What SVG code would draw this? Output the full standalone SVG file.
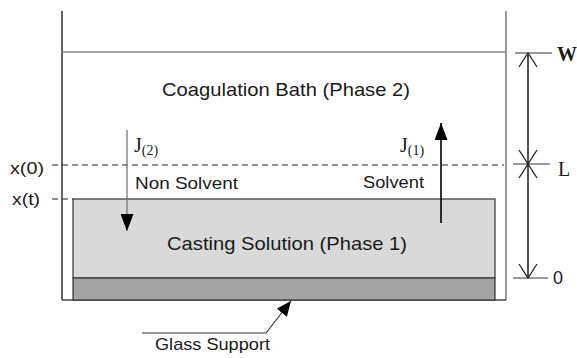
<svg xmlns="http://www.w3.org/2000/svg" width="577" height="358" viewBox="0 0 577 358">
<defs>
<marker id="fill" viewBox="0 0 10 10" refX="10" refY="5" markerWidth="15" markerHeight="13" markerUnits="userSpaceOnUse" orient="auto" preserveAspectRatio="none"><path d="M0,0 L10,5 L0,10 z" fill="#000"/></marker>
<marker id="big" viewBox="0 0 10 10" refX="10" refY="5" markerWidth="17" markerHeight="13" markerUnits="userSpaceOnUse" orient="auto" preserveAspectRatio="none"><path d="M0,0 L10,5 L0,10 z" fill="#000"/></marker>
<marker id="open" viewBox="0 0 16 20" refX="15" refY="10" markerWidth="16" markerHeight="20" markerUnits="userSpaceOnUse" orient="auto"><path d="M1,1 L15,10 L1,19" fill="none" stroke="#222" stroke-width="1.3"/></marker>
</defs>
<style>
.sans{font-family:"Liberation Sans",Arial,sans-serif;fill:#1a1a1a}
.serif{font-family:"Liberation Serif","Times New Roman",serif;fill:#1a1a1a}
.dash{stroke:#222;stroke-width:1.2;stroke-dasharray:6,4;fill:none}
.thin{stroke:#333;stroke-width:1.2;fill:none}
</style>
<rect width="577" height="358" fill="#fff"/>
<g id="container">
<line x1="62" y1="11" x2="62" y2="300" stroke="#333" stroke-width="1.5"/>
<line x1="506" y1="11" x2="506" y2="300" stroke="#777" stroke-width="1.5"/>
<line x1="62" y1="300" x2="506" y2="300" stroke="#444" stroke-width="1.5"/>
<line x1="62" y1="52" x2="506" y2="52" stroke="#888" stroke-width="1.5"/>
</g>
<g id="bath">
<text class="sans" x="162" y="96" font-size="19" textLength="248" lengthAdjust="spacingAndGlyphs">Coagulation Bath (Phase 2)</text>
</g>
<g id="casting">
<rect x="73" y="199" width="422" height="79" fill="#d9d9d9" stroke="#333" stroke-width="1.2"/>
<rect x="73" y="278" width="422" height="22" fill="#a4a4a4" stroke="#333" stroke-width="1.2"/>
<text class="sans" x="167" y="250" font-size="19" textLength="240" lengthAdjust="spacingAndGlyphs">Casting Solution (Phase 1)</text>
</g>
<g id="levels">
<line class="dash" x1="52" y1="165" x2="504" y2="165"/>
<line class="dash" x1="52" y1="199" x2="73" y2="199"/>
<text class="sans" x="10" y="174" font-size="17" textLength="34" lengthAdjust="spacingAndGlyphs">x(0)</text>
<text class="sans" x="12" y="205" font-size="17" textLength="28" lengthAdjust="spacingAndGlyphs">x(t)</text>
</g>
<g id="j2">
<text class="serif" x="134" y="152" font-size="20">J<tspan font-size="14" dy="3">(2)</tspan></text>
<text class="sans" x="135" y="189" font-size="17" textLength="103" lengthAdjust="spacingAndGlyphs">Non Solvent</text>
</g>
<g id="j1">
<text class="serif" x="400" y="152" font-size="20">J<tspan font-size="14" dy="3">(1)</tspan></text>
<text class="sans" x="363" y="188" font-size="17" textLength="61" lengthAdjust="spacingAndGlyphs">Solvent</text>
</g>
<g id="dimension">
<line x1="515" y1="53" x2="552" y2="53" stroke="#777" stroke-width="1.5"/>
<line x1="513" y1="164" x2="550" y2="164" stroke="#777" stroke-width="1.5"/>
<line x1="513" y1="278" x2="548" y2="278" stroke="#777" stroke-width="1.5"/>
<text class="serif" x="557" y="61" font-size="20" font-weight="bold">W</text>
<text class="serif" x="558" y="176" font-size="20">L</text>
<text class="sans" x="553" y="284" font-size="18">0</text>
</g>
<g id="glass">
<text class="sans" x="155" y="350" font-size="17" textLength="115" lengthAdjust="spacingAndGlyphs">Glass Support</text>
</g>
<g id="connectors">
<line x1="127" y1="130" x2="127" y2="231" stroke="#777" stroke-width="1.3" marker-end="url(#big)"/>
<line x1="441" y1="223" x2="441" y2="123" stroke="#000" stroke-width="1.6" marker-end="url(#big)"/>
<line class="thin" x1="528" y1="164" x2="528" y2="53" marker-end="url(#open)"/>
<line class="thin" x1="528" y1="53" x2="528" y2="164" marker-end="url(#open)"/>
<line class="thin" x1="528" y1="278" x2="528" y2="164" marker-end="url(#open)"/>
<line class="thin" x1="528" y1="164" x2="528" y2="278" marker-end="url(#open)"/>
<polyline points="142,333 266,333 291,301" fill="none" stroke="#333" stroke-width="1.2" marker-end="url(#fill)"/>
</g>
</svg>
